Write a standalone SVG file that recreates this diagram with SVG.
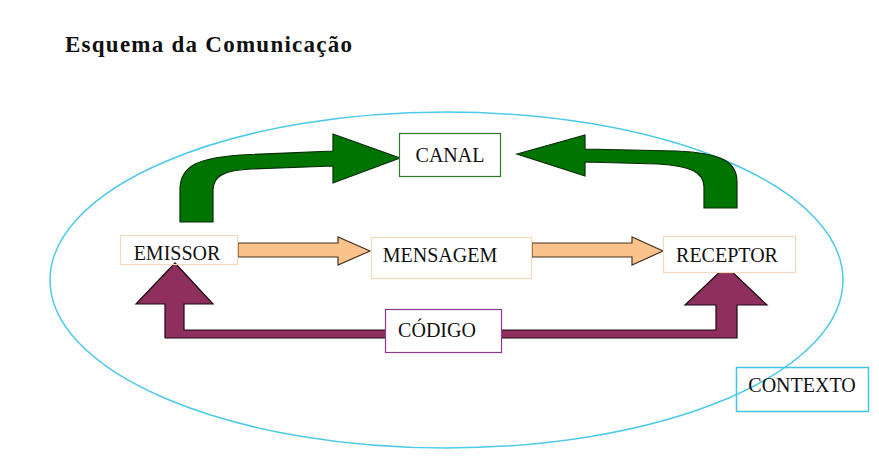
<svg xmlns="http://www.w3.org/2000/svg" width="879" height="471" viewBox="0 0 879 471">
<style>
text{font-family:"Liberation Serif","Times New Roman",serif;font-size:20px;fill:#111;}
.lbl{text-anchor:middle;}
.title{font-weight:bold;font-size:23px;}
.peach{fill:#fff;stroke:#f5d9bb;stroke-width:1.2;}
.green{fill:#007400;stroke:#0b2a0b;stroke-width:1.2;}
.orange{fill:#fbc28c;stroke:#4a3520;stroke-width:1.2;}
.purple{fill:#8f2f5e;stroke:#1a0a12;stroke-width:1.2;}
</style>
<rect width="879" height="471" fill="#fff"/>
<text class="title" x="65" y="52" textLength="287" lengthAdjust="spacing">Esquema da Comunicação</text>
<g id="contexto-ellipse">
<ellipse cx="446.5" cy="280" rx="396.5" ry="168" fill="none" stroke="#4ccae8" stroke-width="1.5"/>
</g>
<g id="connectors">
<path class="green" d="M180,222 L180,190 C180,166 196,157 250,154.5 L333,151 L333,134 L400,158 L333,183 L333,166 L252,169 C224,170 213,176 213,190 L213,222 Z"/>
<path class="green" d="M517,154 L585,135 L585,149 L676,151 C724,153 737,163 737,182 L737,208 L704,208 L704,187 C704,173 692,166 658,164 L585,162 L585,176 Z"/>
<path class="orange" d="M238,243 L338,243 L338,237 L370,251 L338,265 L338,257 L238,257 Z"/>
<path class="orange" d="M532,243 L632,243 L632,237 L663,251 L632,265 L632,257 L532,257 Z"/>
<path class="purple" d="M175,263 L213,304 L184,304 L184,330 L716,330 L716,305 L685,305 L726,266 L767,305 L737,305 L737,338 L165,338 L165,304 L136,304 Z"/>
</g>
<g id="canal">
<rect x="399.5" y="133.5" width="101" height="43" fill="#fff" stroke="#2a7a2a" stroke-width="1.2"/>
<text class="lbl" x="450" y="162">CANAL</text>
</g>
<g id="emissor">
<rect class="peach" x="120.5" y="235.5" width="117" height="29" fill-opacity="0"/>
<text class="lbl" x="177" y="260">EMISSOR</text>
</g>
<g id="mensagem">
<rect class="peach" x="371.5" y="237.5" width="160" height="41"/>
<text class="lbl" x="440" y="262">MENSAGEM</text>
</g>
<g id="receptor">
<rect class="peach" x="663.5" y="236.5" width="132" height="36"/>
<text class="lbl" x="727" y="262">RECEPTOR</text>
</g>
<g id="codigo">
<rect x="385.5" y="309.5" width="116" height="43" fill="#fff" stroke="#8a3a8a" stroke-width="1.2"/>
<text class="lbl" x="437" y="337">CÓDIGO</text>
</g>
<g id="contexto">
<rect x="736.5" y="367.5" width="132" height="44" fill="none" stroke="#45c3e4" stroke-width="1.5"/>
<text class="lbl" x="802" y="392">CONTEXTO</text>
</g>
</svg>
